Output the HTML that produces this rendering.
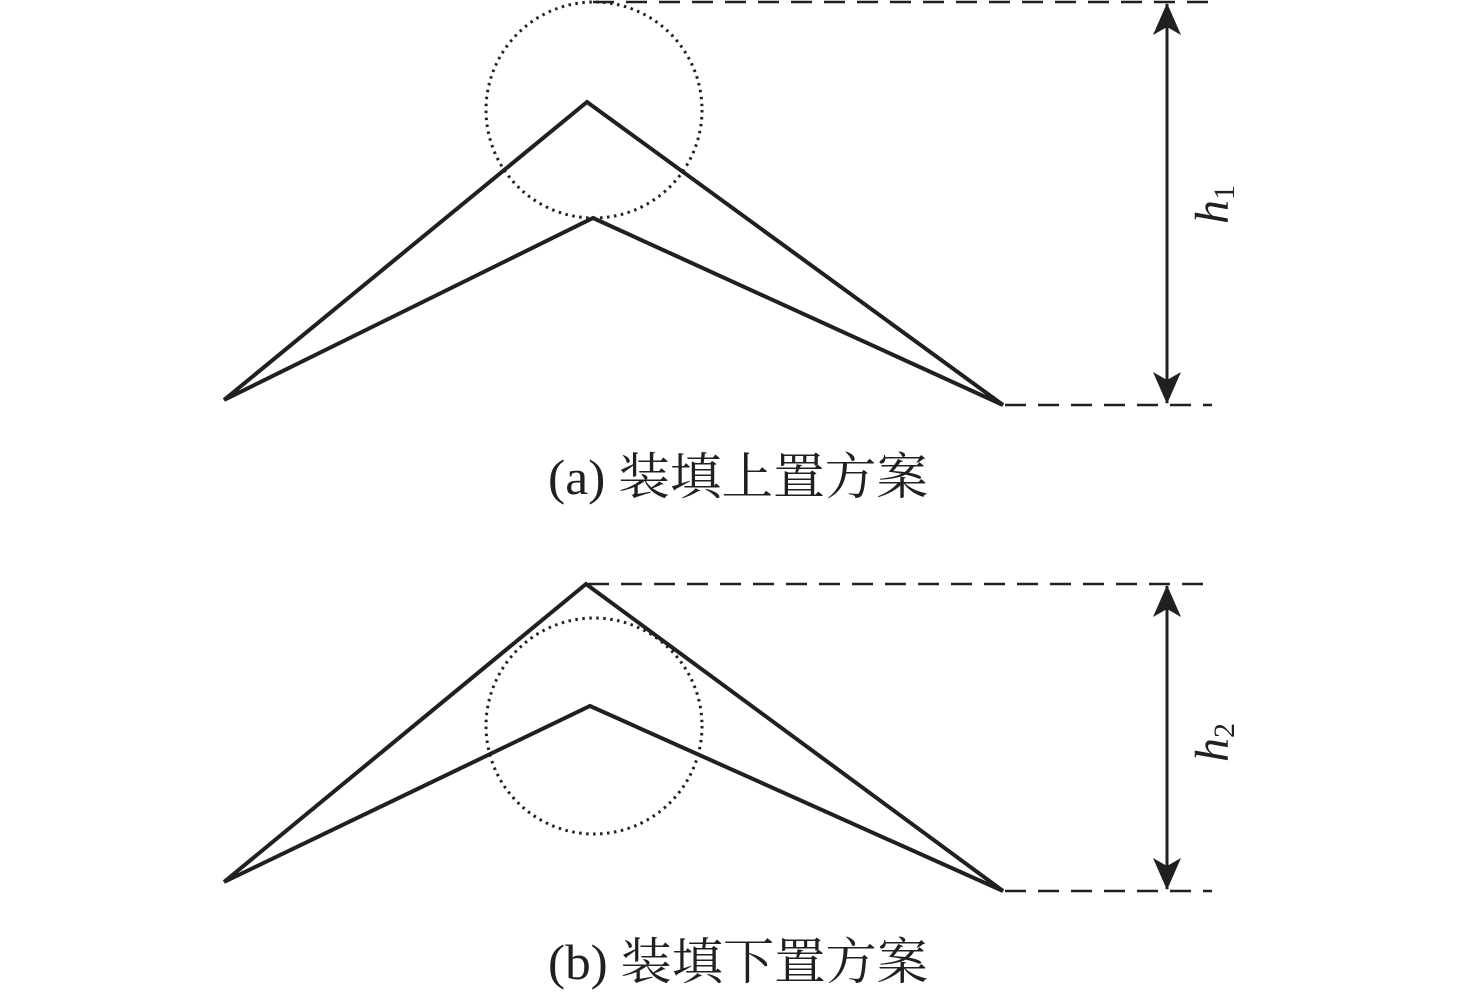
<!DOCTYPE html>
<html><head><meta charset="utf-8"><style>
html,body{margin:0;padding:0;background:#fff;}
svg{display:block;}
</style></head><body>
<svg width="1476" height="996" viewBox="0 0 1476 996" xmlns="http://www.w3.org/2000/svg">
<defs>
<marker id="ah" viewBox="0 0 32 28" refX="31" refY="14" markerWidth="32" markerHeight="28" markerUnits="userSpaceOnUse" orient="auto-start-reverse">
<path d="M0,0 L32,14 L0,28 L8,14 Z" fill="#231f20"/>
</marker>
</defs>
<g stroke="#231f20" fill="none" stroke-linejoin="miter">
<polyline points="224,400 587,102 1003,405 593,218 224,400" stroke-width="4"/>
<circle cx="594" cy="110" r="108" stroke-width="3" stroke-dasharray="2.5,4.5"/>
<line x1="593" y1="2" x2="1212" y2="2" stroke-width="2.5" stroke-dasharray="21,12"/>
<line x1="1005" y1="405" x2="1212" y2="405" stroke-width="2.5" stroke-dasharray="21,12"/>
<line x1="1167" y1="4" x2="1167" y2="403" stroke-width="3" marker-start="url(#ah)" marker-end="url(#ah)"/>
<polyline points="224,882 586,584 1003,891 590,706 224,882" stroke-width="4"/>
<circle cx="594" cy="726" r="108" stroke-width="3" stroke-dasharray="2.5,4.5"/>
<line x1="588" y1="584" x2="1212" y2="584" stroke-width="2.5" stroke-dasharray="21,12"/>
<line x1="1005" y1="891" x2="1212" y2="891" stroke-width="2.5" stroke-dasharray="21,12"/>
<line x1="1167" y1="586" x2="1167" y2="889" stroke-width="3" marker-start="url(#ah)" marker-end="url(#ah)"/>
</g>
<g fill="#231f20" font-family="'Liberation Serif','Noto Serif CJK SC',serif">
<text transform="translate(1228,224) rotate(-90)" font-size="48" font-style="italic">h<tspan font-size="30" font-style="normal" dy="6">1</tspan></text>
<text transform="translate(1228,762) rotate(-90)" font-size="48" font-style="italic">h<tspan font-size="30" font-style="normal" dy="6">2</tspan></text>
<text x="738" y="494" font-size="50" text-anchor="middle" textLength="380" lengthAdjust="spacingAndGlyphs">(a) 装填上置方案</text>
<text x="738" y="979" font-size="50" text-anchor="middle" textLength="380" lengthAdjust="spacingAndGlyphs">(b) 装填下置方案</text>
</g>
</svg>
</body></html>
